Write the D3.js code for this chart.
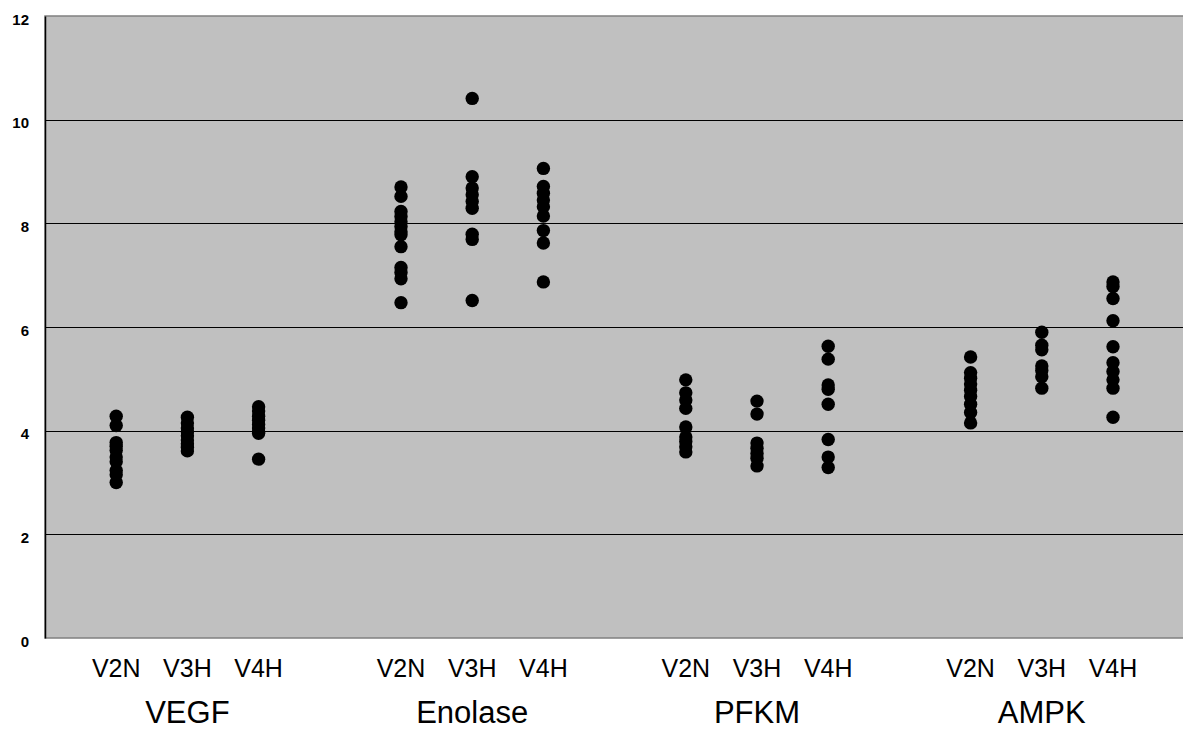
<!DOCTYPE html>
<html>
<head>
<meta charset="utf-8">
<script src="https://cdn.jsdelivr.net/npm/d3@7"></script>
<style>
    body { margin: 0; background: #ffffff; }
    text { font-family: Arial, "Liberation Sans", sans-serif; }
</style>
</head>
<body>
<div id="grafico"></div>
<script>
// Grupos y subgrupos
const genes = ["VEGF", "Enolase", "PFKM", "AMPK"];
const visitas = ["V2N", "V3H", "V4H"];
const yTicks = [0, 2, 4, 6, 8, 10, 12];

// Valores (gen -> visita)
const vegfV2N = [4.28, 4.10, 3.77, 3.70, 3.62, 3.49, 3.40, 3.23, 3.15, 3.00];
const vegfV3H = [4.26, 4.15, 4.05, 3.98, 3.90, 3.82, 3.75, 3.68, 3.61];
const vegfV4H = [4.46, 4.38, 4.28, 4.20, 4.12, 4.05, 3.98, 3.95, 3.45];

const enoV2N = [8.70, 8.52, 8.23, 8.13, 8.03, 7.94, 7.84, 7.78, 7.55, 7.15, 7.05, 6.93, 6.47];
const enoV3H = [10.41, 8.90, 8.68, 8.55, 8.42, 8.29, 7.79, 7.69, 6.51];
const enoV4H = [9.06, 8.71, 8.58, 8.45, 8.32, 8.14, 7.86, 7.62, 6.87];

const pfkmV2N = [4.98, 4.73, 4.59, 4.43, 4.07, 3.88, 3.79, 3.69, 3.59];
const pfkmV3H = [4.57, 4.32, 3.76, 3.66, 3.56, 3.47, 3.32];
const pfkmV4H = [5.63, 5.38, 4.88, 4.80, 4.51, 3.83, 3.49, 3.29];

const ampkV2N = [5.42, 5.12, 5.01, 4.90, 4.78, 4.66, 4.51, 4.35, 4.15];
const ampkV3H = [5.90, 5.65, 5.56, 5.25, 5.16, 5.04, 4.82];
const ampkV4H = [6.87, 6.78, 6.55, 6.12, 5.62, 5.31, 5.14, 4.98, 4.82, 4.26];

const series = [
    [vegfV2N, vegfV3H, vegfV4H],
    [enoV2N, enoV3H, enoV4H],
    [pfkmV2N, pfkmV3H, pfkmV4H],
    [ampkV2N, ampkV3H, ampkV4H]
];

let datos = [];
series.forEach((grupo, g) => {
    grupo.forEach((valores, s) => {
        valores.forEach(v => datos.push({ pos: g * 4 + s + 1, valor: v }));
    });
});

crearGrafico(datos);

function crearGrafico(datos) {
    const svgWidth = 1183, svgHeight = 738;
    const left = 45, top = 16, bottom = 638;
    const paso = 71.2;

    const svg = d3.select("#grafico")
        .append("svg")
        .attr("width", svgWidth)
        .attr("height", svgHeight);

    // Escalas
    const x = d3.scaleLinear()
        .domain([0, 16])
        .range([left, left + paso * 16]);

    const y = d3.scaleLinear()
        .domain([0, 12])
        .range([bottom, top]);

    // Fondo del area de trazado
    svg.append("rect")
        .attr("x", left)
        .attr("y", top)
        .attr("width", x(16) - left)
        .attr("height", bottom - top)
        .attr("fill", "#c0c0c0")
        .attr("stroke", "#808080")
        .attr("stroke-width", 1.5);

    // Lineas de cuadricula
    svg.selectAll(".grid")
        .data(yTicks.filter(t => t > 0 && t < 12))
        .enter()
        .append("line")
        .attr("x1", left)
        .attr("x2", x(16))
        .attr("y1", d => Math.round(y(d)) + 0.5)
        .attr("y2", d => Math.round(y(d)) + 0.5)
        .attr("stroke", "#000")
        .attr("stroke-width", 1);

    // Eje Y
    const ejeY = svg.append("g")
        .attr("transform", `translate(${left}, 0)`)
        .call(d3.axisLeft(y).tickValues(yTicks).tickSize(0).tickPadding(16));
    ejeY.select(".domain").attr("stroke", "#000").attr("stroke-width", 1.5);
    ejeY.selectAll("text")
        .attr("dy", "0.55em")
        .style("font-size", "15px")
        .style("font-weight", "bold")
        .style("font-family", "Arial, 'Liberation Sans', sans-serif")
        .attr("fill", "#000");

    // Etiquetas de visita
    const etiquetas = [];
    genes.forEach((gen, g) => visitas.forEach((v, s) => etiquetas.push({ pos: g * 4 + s + 1, texto: v })));

    svg.selectAll(".visita")
        .data(etiquetas)
        .enter()
        .append("text")
        .attr("x", d => x(d.pos))
        .attr("y", 677)
        .attr("text-anchor", "middle")
        .style("font-size", "25px")
        .attr("fill", "#000")
        .text(d => d.texto);

    // Etiquetas de gen
    svg.selectAll(".gen")
        .data(genes)
        .enter()
        .append("text")
        .attr("x", (d, i) => x(i * 4 + 2))
        .attr("y", 723)
        .attr("text-anchor", "middle")
        .style("font-size", "31px")
        .attr("fill", "#000")
        .text(d => d);

    // Puntos
    svg.selectAll(".dot")
        .data(datos)
        .enter()
        .append("circle")
        .attr("cx", d => x(d.pos))
        .attr("cy", d => y(d.valor))
        .attr("r", 6.7)
        .style("fill", "#000");
}
</script>
</body>
</html>
